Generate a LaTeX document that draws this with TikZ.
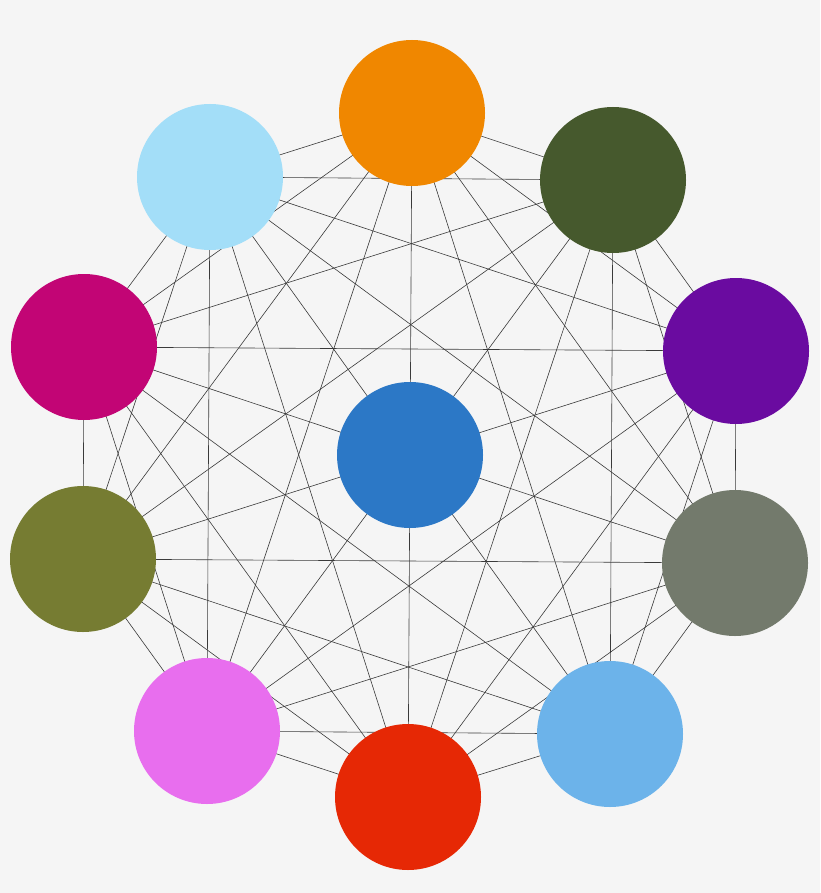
\documentclass[tikz,border=0pt]{standalone}
\definecolor{bg}{HTML}{F5F5F5}
\definecolor{cOrange}{HTML}{F08700}
\definecolor{cDkGreen}{HTML}{46592D}
\definecolor{cPurple}{HTML}{6A0BA0}
\definecolor{cGray}{HTML}{737A6C}
\definecolor{cLtBlueB}{HTML}{6CB3EA}
\definecolor{cRed}{HTML}{E62805}
\definecolor{cPink}{HTML}{E86EEE}
\definecolor{cOlive}{HTML}{767C32}
\definecolor{cMagenta}{HTML}{C20575}
\definecolor{cLtBlueT}{HTML}{A3DEF8}
\definecolor{cCenter}{HTML}{2C78C6}
\definecolor{edgec}{HTML}{3A3A3A}
\begin{document}
\begin{tikzpicture}[x=1pt,y=-1pt,
  ball/.style={circle,minimum size=146pt,inner sep=0pt,draw=none},
  link/.style={draw=edgec,line width=0.6pt}]
\fill[bg] (0,0) rectangle (820,893);
\useasboundingbox (0,0) rectangle (820,893);
\coordinate (n1) at (412,113);
\coordinate (n2) at (613,180);
\coordinate (n3) at (736,351);
\coordinate (n4) at (735,563);
\coordinate (n5) at (610,734);
\coordinate (n6) at (408,797);
\coordinate (n7) at (207,731);
\coordinate (n8) at (83,559);
\coordinate (n9) at (84,347);
\coordinate (n10) at (210,177);
\coordinate (n0) at (410,455);
% outer-to-outer links (opposite pairs pass through the centre node)
\foreach \i in {1,...,10}{
  \foreach \j in {1,...,10}{
    \ifnum\i<\j
      \draw[link] (n\i) -- (n\j);
    \fi
  }
}
\node[ball,fill=cOrange] (b1) at (n1) {};
\node[ball,fill=cDkGreen] (b2) at (n2) {};
\node[ball,fill=cPurple] (b3) at (n3) {};
\node[ball,fill=cGray] (b4) at (n4) {};
\node[ball,fill=cLtBlueB] (b5) at (n5) {};
\node[ball,fill=cRed] (b6) at (n6) {};
\node[ball,fill=cPink] (b7) at (n7) {};
\node[ball,fill=cOlive] (b8) at (n8) {};
\node[ball,fill=cMagenta] (b9) at (n9) {};
\node[ball,fill=cLtBlueT] (b10) at (n10) {};
\node[ball,fill=cCenter] (b0) at (n0) {};
\end{tikzpicture}
\end{document}
